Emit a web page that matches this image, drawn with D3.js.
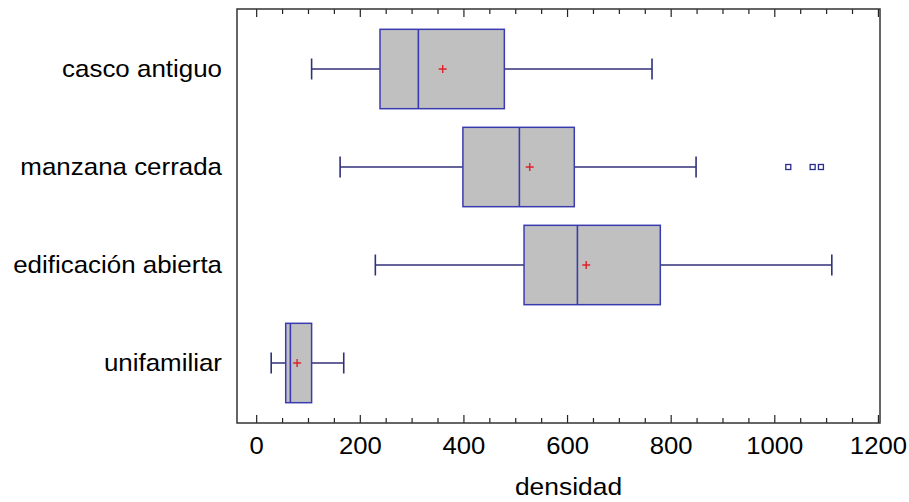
<!DOCTYPE html>
<html>
<head>
<meta charset="utf-8">
<script src="https://cdn.jsdelivr.net/npm/d3@7"></script>
<style>
  body { margin: 0; background: #fff; }
  text { font-family: "Liberation Sans", Arial, sans-serif; fill: #000; }
</style>
</head>
<body>
<div id="chart"></div>
<script>
// categorias de arriba abajo
var categories = ["casco antiguo", "manzana cerrada", "edificación abierta", "unifamiliar"];
// valores
var whiskerLow  = [107, 162, 230, 29];
var q1          = [239, 399, 517, 57];
var median      = [313, 508, 620, 66];
var q3          = [479, 614, 780, 107];
var whiskerHigh = [764, 849, 1111, 169];
var means       = [360, 528, 637, 79];
// puntos atipicos de manzana cerrada
var outlierCat  = ["manzana cerrada", "manzana cerrada", "manzana cerrada"];
var outlierVal  = [1027, 1074, 1090];
var majorTicks  = [0, 200, 400, 600, 800, 1000, 1200];
var axisTitle   = "densidad";

var W = 909, H = 502;
var frame = {left: 237, right: 880, top: 9, bottom: 423};

var svg = d3.select("#chart").append("svg")
    .attr("width", W)
    .attr("height", H);

var x = d3.scaleLinear().domain([-37, 1204]).range([frame.left, frame.right]);
var y = d3.scaleBand().domain(categories).range([20, 412]).padding(0);

var boxH = y.bandwidth() * 0.81,
    capH = 21;

var boxColor = "#3b3bb0",
    whiskColor = "#30307a";

// ejes con ticks hacia dentro
var minorTicks = d3.range(0, 1201, 50).filter(function (v) { return v % 200 !== 0; });
var axB = d3.axisBottom(x).tickValues(majorTicks).tickSize(-8).tickFormat(d3.format("d")).tickPadding(14);
var axBm = d3.axisBottom(x).tickValues(minorTicks).tickSize(-5).tickFormat("");
var axT = d3.axisTop(x).tickValues(majorTicks).tickSize(-8).tickFormat("");
var axTm = d3.axisTop(x).tickValues(minorTicks).tickSize(-5).tickFormat("");

function styleAxis(g) {
    g.select(".domain").remove();
    g.selectAll(".tick line").attr("stroke", "#222").attr("stroke-width", 1.2);
    g.selectAll(".tick text")
        .attr("font-size", 24)
        .attr("font-family", "Liberation Sans, Arial, sans-serif")
        .attr("fill", "#000")
        .attr("transform", "scale(1.07,1)");
}
svg.append("g").attr("transform", "translate(0," + frame.bottom + ")").call(axB).call(styleAxis);
svg.append("g").attr("transform", "translate(0," + frame.bottom + ")").call(axBm).call(styleAxis);
svg.append("g").attr("transform", "translate(0," + frame.top + ")").call(axT).call(styleAxis);
svg.append("g").attr("transform", "translate(0," + frame.top + ")").call(axTm).call(styleAxis);

// marco
svg.append("rect")
    .attr("x", frame.left).attr("y", frame.top)
    .attr("width", frame.right - frame.left).attr("height", frame.bottom - frame.top)
    .attr("fill", "none").attr("stroke", "#333").attr("stroke-width", 1.5);

var rows = categories.map(function (c, i) {
    return {cat: c, lo: whiskerLow[i], q1: q1[i], med: median[i], q3: q3[i], hi: whiskerHigh[i], mean: means[i]};
});

var g = svg.append("g").selectAll(".row").data(rows).enter().append("g")
    .attr("transform", function (d) { return "translate(0," + (y(d.cat) + y.bandwidth() / 2) + ")"; });

// bigotes
g.append("line").attr("x1", function (d) { return x(d.lo); }).attr("x2", function (d) { return x(d.q1); })
    .attr("stroke", whiskColor).attr("stroke-width", 1.5);
g.append("line").attr("x1", function (d) { return x(d.q3); }).attr("x2", function (d) { return x(d.hi); })
    .attr("stroke", whiskColor).attr("stroke-width", 1.5);
g.append("line").attr("x1", function (d) { return x(d.lo); }).attr("x2", function (d) { return x(d.lo); })
    .attr("y1", -capH / 2).attr("y2", capH / 2).attr("stroke", whiskColor).attr("stroke-width", 1.6);
g.append("line").attr("x1", function (d) { return x(d.hi); }).attr("x2", function (d) { return x(d.hi); })
    .attr("y1", -capH / 2).attr("y2", capH / 2).attr("stroke", whiskColor).attr("stroke-width", 1.6);

// caja
g.append("rect")
    .attr("x", function (d) { return x(d.q1); })
    .attr("y", -boxH / 2)
    .attr("width", function (d) { return x(d.q3) - x(d.q1); })
    .attr("height", boxH)
    .attr("fill", "#c0c0c0").attr("stroke", boxColor).attr("stroke-width", 1.5);
g.append("line")
    .attr("x1", function (d) { return x(d.med); }).attr("x2", function (d) { return x(d.med); })
    .attr("y1", -boxH / 2).attr("y2", boxH / 2)
    .attr("stroke", boxColor).attr("stroke-width", 1.6);

// media
g.append("path")
    .attr("d", function (d) { var m = x(d.mean); return "M" + (m - 4) + ",0H" + (m + 4) + "M" + m + ",-4V4"; })
    .attr("stroke", "#e0202a").attr("stroke-width", 1.4).attr("fill", "none");

// etiquetas de categoria
g.append("text")
    .attr("transform", "translate(222,8) scale(1.08,1)")
    .attr("text-anchor", "end")
    .attr("font-size", 24)
    .text(function (d) { return d.cat; });

// atipicos
svg.append("g").selectAll("rect").data(outlierVal).enter().append("rect")
    .attr("x", function (d) { return x(d) - 2.5; })
    .attr("y", function (d, i) { return y(outlierCat[i]) + y.bandwidth() / 2 - 2.5; })
    .attr("width", 5).attr("height", 5)
    .attr("fill", "#fff").attr("stroke", "#2a2a90").attr("stroke-width", 1.3);

// titulo del eje
svg.append("text")
    .attr("transform", "translate(" + ((frame.left + frame.right) / 2 + 10) + ",495) scale(1.1,1)")
    .attr("text-anchor", "middle")
    .attr("font-size", 24)
    .text(axisTitle);
</script>
</body>
</html>
